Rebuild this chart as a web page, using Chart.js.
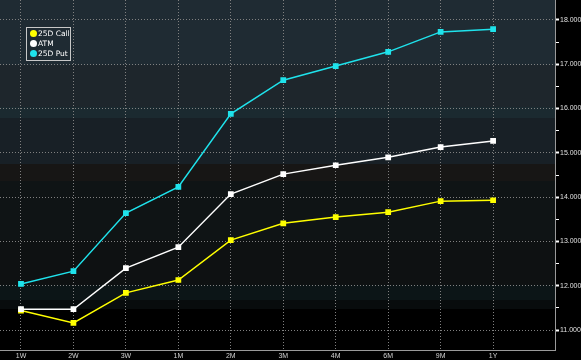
<!DOCTYPE html>
<html>
<head>
<meta charset="utf-8">
<script src="https://cdn.jsdelivr.net/npm/chart.js@4"></script>
<style>
html,body{margin:0;padding:0;background:#000;}
#wrap{position:relative;width:581px;height:360px;}
#legend{position:absolute;left:26px;top:27px;width:43px;height:32px;border:1px solid #c8c8c8;font-family:"DejaVu Sans",sans-serif;font-size:7.5px;color:#fff;padding:0;box-sizing:content-box;}
#legend div{position:relative;height:9px;line-height:9px;margin-left:3px;margin-top:1px;white-space:nowrap;}
#legend span.dot{display:inline-block;width:7px;height:7px;border-radius:50%;vertical-align:-1px;margin-right:1px;}
</style>
</head>
<body>
<div id="wrap">
<canvas id="c" width="581" height="360"></canvas>
<div id="legend"></div>
</div>
<script>
const categories = ["1W","2W","3W","1M","2M","3M","4M","6M","9M","1Y"];
const call25 = [11.44, 11.16, 11.84, 12.13, 13.03, 13.41, 13.55, 13.66, 13.91, 13.93];
const atm    = [11.47, 11.47, 12.40, 12.87, 14.07, 14.52, 14.72, 14.90, 15.13, 15.27];
const put25  = [12.04, 12.33, 13.64, 14.23, 15.88, 16.64, 16.96, 17.28, 17.73, 17.79];
const yTicks = [11, 11.5, 12, 12.5, 13, 13.5, 14, 14.5, 15, 15.5, 16, 16.5, 17, 17.5, 18];
const seriesNames = ["25D Call", "ATM", "25D Put"];
const seriesColors = ["#ffff00", "#ffffff", "#1fe3ec"];

const toPts = arr => arr.map((v, i) => ({x: i, y: v}));

const bgPlugin = {
  id: 'bg',
  beforeDraw(chart) {
    const ctx = chart.ctx, a = chart.chartArea;
    ctx.save();
    ctx.fillStyle = '#000';
    ctx.fillRect(0, 0, chart.width, chart.height);
    const h = a.bottom - a.top;
    const bands = [
      [0, 65, '#1f2b33'],
      [65, 107, '#1e262c'],
      [107, 118, '#1b2a30'],
      [118, 164, '#182026'],
      [164, 181, '#171615'],
      [181, 240, '#0f1415'],
      [240, 285, '#0e1112'],
      [285, 300, '#0c1517'],
      [300, 309, '#080c0d'],
      [309, 350, '#000000']
    ];
    bands.forEach(([y0, y1, c]) => {
      ctx.fillStyle = c;
      ctx.fillRect(a.left, a.top + y0 / 350 * h, a.right - a.left, (y1 - y0) / 350 * h);
    });
    ctx.restore();
  }
};

const chart = new Chart(document.getElementById('c'), {
  type: 'line',
  data: {
    datasets: [call25, atm, put25].map((arr, k) => ({
      label: seriesNames[k],
      data: toPts(arr),
      borderColor: seriesColors[k],
      backgroundColor: seriesColors[k],
      borderWidth: 1.5,
      pointStyle: 'rect',
      pointRadius: 3,
      pointHoverRadius: 3,
      tension: 0,
      fill: false
    })).reverse()
  },
  options: {
    responsive: false,
    animation: false,
    layout: {padding: 0, autoPadding: false},
    plugins: {legend: {display: false}, tooltip: {enabled: false}},
    scales: {
      x: {
        type: 'linear',
        min: -0.4,
        max: 10.18,
        afterBuildTicks: s => { s.ticks = categories.map((_, i) => ({value: i})); },
        afterFit: s => { s.height = 10; s.paddingLeft = 0; s.paddingRight = 0; s.paddingTop = 0; s.paddingBottom = 0; },
        ticks: {
          callback: v => categories[v],
          color: '#d0d0d0',
          font: {family: 'Liberation Sans', size: 7},
          padding: 2,
          maxRotation: 0,
          autoSkip: false
        },
        grid: {color: '#808080', lineWidth: 1, drawTicks: false},
        border: {display: true, color: '#9a9a9a', width: 1, dash: [1, 2]}
      },
      y: {
        type: 'linear',
        position: 'right',
        min: 10.55,
        max: 18.45,
        afterBuildTicks: s => { s.ticks = yTicks.map(v => ({value: v})); },
        afterFit: s => { s.width = 26; s.paddingLeft = 0; s.paddingRight = 0; s.paddingTop = 0; s.paddingBottom = 0; },
        ticks: {
          callback: v => Number.isInteger(v) ? v.toFixed(3) : '',
          color: '#e0e0e0',
          font: {family: 'Liberation Sans', size: 7},
          padding: 1,
          autoSkip: false
        },
        grid: {
          color: c => (c.tick && Number.isInteger(c.tick.value)) ? '#808080' : 'rgba(0,0,0,0)',
          lineWidth: 1,
          drawTicks: true,
          tickLength: 4,
          tickColor: '#ffffff',
          tickWidth: c => (c.tick && Number.isInteger(c.tick.value)) ? 2 : 1
        },
        border: {display: true, color: '#9a9a9a', width: 1, dash: [1, 2]}
      }
    }
  },
  plugins: [bgPlugin]
});

const leg = document.getElementById('legend');
seriesNames.forEach((n, k) => {
  const d = document.createElement('div');
  d.innerHTML = '<span class="dot" style="background:' + seriesColors[k] + '"></span>' + n;
  leg.appendChild(d);
});
</script>
</body>
</html>
